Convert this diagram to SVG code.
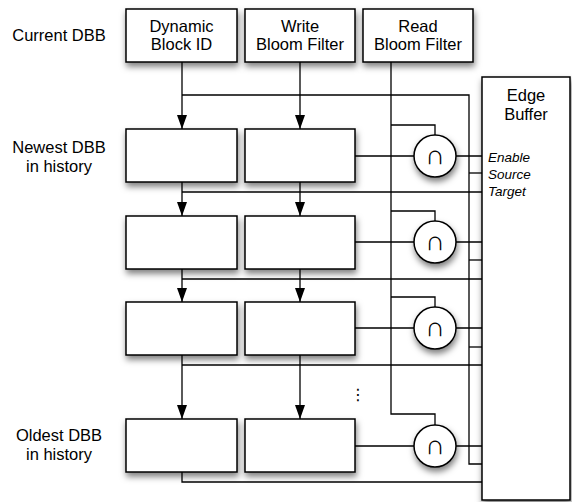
<svg xmlns="http://www.w3.org/2000/svg" width="572" height="502" viewBox="0 0 572 502">
<defs>
<filter id="sh" x="-20%" y="-20%" width="150%" height="160%">
<feDropShadow dx="1" dy="4" stdDeviation="3" flood-color="#000" flood-opacity="0.5"/>
</filter>
<marker id="arr" viewBox="0 0 14 10" refX="14" refY="5" markerWidth="14" markerHeight="10" markerUnits="userSpaceOnUse" orient="auto">
<path d="M0,0 L14,5 L0,10 Z" fill="#000"/>
</marker>
</defs>
<style>
.box{fill:#fff;stroke:#000;stroke-width:1.5;filter:url(#sh)}
.ln{fill:none;stroke:#000;stroke-width:1.3}
.ar{fill:none;stroke:#000;stroke-width:1.3;marker-end:url(#arr)}
.t{font-family:"Liberation Sans",Arial,Helvetica,sans-serif;font-size:16.5px;fill:#000;text-anchor:middle}
.it{font-family:"Liberation Sans",Arial,Helvetica,sans-serif;font-size:13.5px;font-style:italic;fill:#000}
.cap{font-family:"DejaVu Sans","Liberation Sans",sans-serif;font-size:27px;font-weight:200;fill:#000;text-anchor:middle}
.dots{font-family:"DejaVu Sans","Liberation Sans",sans-serif;font-size:16px;fill:#000;text-anchor:middle}
</style>
<rect width="572" height="502" fill="#fff"/>

<g id="labels">
<text class="t" x="59" y="41">Current DBB</text>
<text class="t" x="59" y="153">Newest DBB</text>
<text class="t" x="59" y="172">in history</text>
<text class="t" x="59" y="441">Oldest DBB</text>
<text class="t" x="59" y="460">in history</text>
</g>

<g id="edge-buffer">
<rect class="box" x="482" y="77" width="88" height="423"/>
<text class="t" x="526" y="101">Edge</text>
<text class="t" x="526" y="120">Buffer</text>
<text class="it" x="488" y="162">Enable</text>
<text class="it" x="488" y="179">Source</text>
<text class="it" x="488" y="196">Target</text>
</g>

<g id="connectors">
<path class="ar" d="M182,62 V129"/>
<path class="ar" d="M182,182 V216"/>
<path class="ar" d="M182,269 V302"/>
<path class="ar" d="M182,355 V419"/>
<path class="ln" d="M182,472 V482 H482"/>
<path class="ar" d="M300,62 V129"/>
<path class="ar" d="M300,182 V216"/>
<path class="ar" d="M300,269 V302"/>
<path class="ar" d="M300,355 V419"/>
<path class="ln" d="M182,95 H469 V464 H482"/>
<path class="ln" d="M182,192 H482"/>
<path class="ln" d="M182,279 H482"/>
<path class="ln" d="M182,365 H482"/>
<path class="ln" d="M469,173 H482"/>
<path class="ln" d="M469,260 H482"/>
<path class="ln" d="M469,347 H482"/>
<path class="ln" d="M391,62 V414 H435 V425"/>
<path class="ln" d="M391,125 H435 V135"/>
<path class="ln" d="M391,211 H435 V221"/>
<path class="ln" d="M391,297 H435 V307"/>
<path class="ln" d="M355,156 H414 M456,156 H482"/>
<path class="ln" d="M355,242 H414 M456,242 H482"/>
<path class="ln" d="M355,328 H414 M456,328 H482"/>
<path class="ln" d="M355,446 H414 M456,446 H482"/>
</g>

<g id="current-dbb-id">
<rect class="box" x="126" y="9" width="111" height="53"/>
<text class="t" x="181.5" y="32">Dynamic</text>
<text class="t" x="181.5" y="50">Block ID</text>
</g>
<g id="current-dbb-write">
<rect class="box" x="245" y="9" width="110" height="53"/>
<text class="t" x="300" y="32">Write</text>
<text class="t" x="300" y="50">Bloom Filter</text>
</g>
<g id="current-dbb-read">
<rect class="box" x="363" y="9" width="110" height="53"/>
<text class="t" x="418" y="32">Read</text>
<text class="t" x="418" y="50">Bloom Filter</text>
</g>

<g id="row1-id"><rect class="box" x="126" y="129" width="111" height="53"/></g>
<g id="row1-write"><rect class="box" x="245" y="129" width="110" height="53"/></g>
<g id="row2-id"><rect class="box" x="126" y="216" width="111" height="53"/></g>
<g id="row2-write"><rect class="box" x="245" y="216" width="110" height="53"/></g>
<g id="row3-id"><rect class="box" x="126" y="302" width="111" height="53"/></g>
<g id="row3-write"><rect class="box" x="245" y="302" width="110" height="53"/></g>
<g id="row4-id"><rect class="box" x="126" y="419" width="111" height="53"/></g>
<g id="row4-write"><rect class="box" x="245" y="419" width="110" height="53"/></g>

<g id="and1"><circle class="box" cx="435" cy="156" r="21"/><text class="cap" x="435" y="164">∩</text></g>
<g id="and2"><circle class="box" cx="435" cy="242" r="21"/><text class="cap" x="435" y="250">∩</text></g>
<g id="and3"><circle class="box" cx="435" cy="328" r="21"/><text class="cap" x="435" y="336">∩</text></g>
<g id="and4"><circle class="box" cx="435" cy="446" r="21"/><text class="cap" x="435" y="454">∩</text></g>

<g id="ellipsis"><text class="dots" x="358" y="400">⋮</text></g>
</svg>
